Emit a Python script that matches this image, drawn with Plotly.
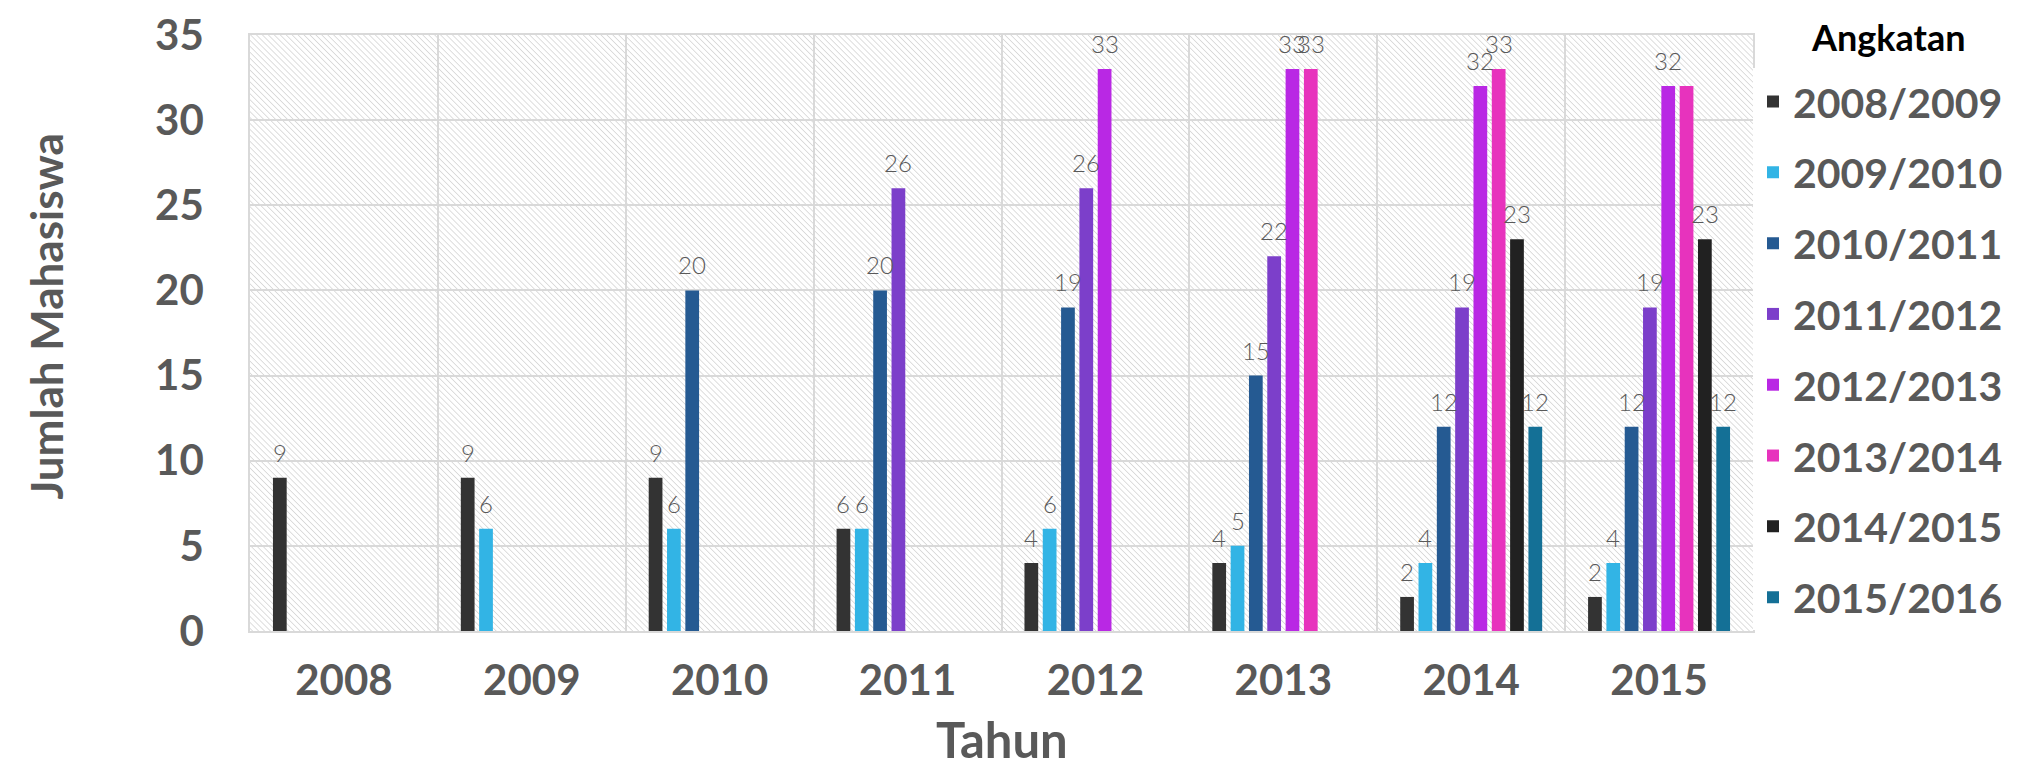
import base64

import plotly.graph_objects as go

# data
tahun = ["2008", "2009", "2010", "2011", "2012", "2013", "2014", "2015"]
angkatan = ["2008/2009", "2009/2010", "2010/2011", "2011/2012",
            "2012/2013", "2013/2014", "2014/2015", "2015/2016"]

a_2008 = [9, 9, 9, 6, 4, 4, 2, 2]
a_2009 = [None, 6, 6, 6, 6, 5, 4, 4]
a_2010 = [None, None, 20, 20, 19, 15, 12, 12]
a_2011 = [None, None, None, 26, 26, 22, 19, 19]
a_2012 = [None, None, None, None, 33, 33, 32, 32]
a_2013 = [None, None, None, None, None, 33, 33, 32]
a_2014 = [None, None, None, None, None, None, 23, 23]
a_2015 = [None, None, None, None, None, None, 12, 12]
series = [a_2008, a_2009, a_2010, a_2011, a_2012, a_2013, a_2014, a_2015]

# label not shown in the original chart
hidden_labels = {("2013/2014", "2015")}

colors = ["#333333", "#32B4E5", "#255A92", "#7C3FCA",
          "#B928E4", "#E733BD", "#212121", "#147096"]

W, H = 2024, 768
M_L, M_R, M_T, M_B = 242, 279, 27, 145
BARGAP, GROUPGAP = 0.22, 0.25
GRAY = "#595959"
FONT = "Lato"

# hatched plot background as an inline svg
pw, ph = W - M_L - M_R, H - M_T - M_B
svg = (
    f'<svg xmlns="http://www.w3.org/2000/svg" width="{pw}" height="{ph}" '
    f'viewBox="0 0 {pw} {ph}" preserveAspectRatio="none">'
    '<defs><pattern id="h" width="4.2" height="4.2" patternUnits="userSpaceOnUse" '
    'patternTransform="rotate(-45)">'
    '<line x1="0" y1="0" x2="0" y2="4.2" stroke="#d0d0d0" stroke-width="1.4"/>'
    '</pattern></defs>'
    f'<rect width="{pw}" height="{ph}" fill="white"/>'
    f'<rect width="{pw}" height="{ph}" fill="url(#h)"/></svg>'
)
hatch = "data:image/svg+xml;base64," + base64.b64encode(svg.encode()).decode()

fig = go.Figure()
for name, vals, col in zip(angkatan, series, colors):
    fig.add_trace(go.Bar(
        x=tahun, y=vals, name=name, legendgroup=name,
        marker=dict(color=col, line=dict(width=0)),
    ))

# data labels sit above each bar inside its group slot
# (category axis: annotation x is the category's serial number)
slot = pw / len(tahun) * (1 - BARGAP) / len(series)
annotations = []
for i, (name, vals) in enumerate(zip(angkatan, series)):
    for j, (t, v) in enumerate(zip(tahun, vals)):
        if v is None or (name, t) in hidden_labels:
            continue
        annotations.append(dict(
            x=j, y=v, text=str(v), showarrow=False,
            xshift=(i - 3.5) * slot, yshift=9, yanchor="bottom",
            font=dict(family=FONT, size=24, color=GRAY, weight=300),
        ))

# axis titles and legend heading
annotations += [
    dict(text="Tahun", xref="paper", yref="paper", x=0.5, y=-0.182,
         xanchor="center", yanchor="middle", showarrow=False,
         font=dict(family=FONT, size=49, color=GRAY, weight="bold")),
    dict(text="Jumlah Mahasiswa", xref="paper", yref="paper", x=-0.136, y=0.527,
         xanchor="center", yanchor="middle", textangle=-90, showarrow=False,
         font=dict(family=FONT, size=44, color=GRAY, weight="bold")),
    dict(text="Angkatan", xref="paper", yref="paper", x=1.09, y=0.997,
         xanchor="center", yanchor="middle", showarrow=False,
         font=dict(family=FONT, size=36, color="black", weight="bold")),
]

fig.update_layout(
    width=W, height=H,
    margin=dict(l=M_L, r=M_R, t=M_T, b=M_B, autoexpand=False),
    paper_bgcolor="white", plot_bgcolor="rgba(0,0,0,0)",
    barmode="group", bargap=BARGAP, bargroupgap=GROUPGAP,
    font=dict(family=FONT, color=GRAY),
    annotations=annotations,
    images=[dict(source=hatch, xref="paper", yref="paper", x=0, y=1,
                 sizex=1, sizey=1, xanchor="left", yanchor="top",
                 sizing="stretch", layer="below")],
    legend=dict(
        x=1.0, y=0.944, xanchor="left", yanchor="top", maxheight=760,
        font=dict(family=FONT, size=41, color=GRAY, weight="bold"),
        tracegroupgap=14.5, itemclick=False,
    ),
    xaxis=dict(
        type="category", range=[-0.5, len(tahun) - 0.5],
        tickfont=dict(family=FONT, size=42, color=GRAY, weight="bold"),
        tickson="boundaries", ticks="", showgrid=True,
        gridcolor="#d9d9d9", gridwidth=1.5,
        showline=True, linecolor="#d9d9d9", linewidth=1.5, mirror=True,
        ticklabelstandoff=12,
    ),
    yaxis=dict(
        range=[0, 35], dtick=5,
        tickfont=dict(family=FONT, size=42, color=GRAY, weight="bold"),
        ticks="", gridcolor="#d9d9d9", gridwidth=1.5, zeroline=False,
        showline=True, linecolor="#d9d9d9", linewidth=1.5, mirror=True,
        ticklabelstandoff=36,
    ),
)

fig.write_html("out.html")
